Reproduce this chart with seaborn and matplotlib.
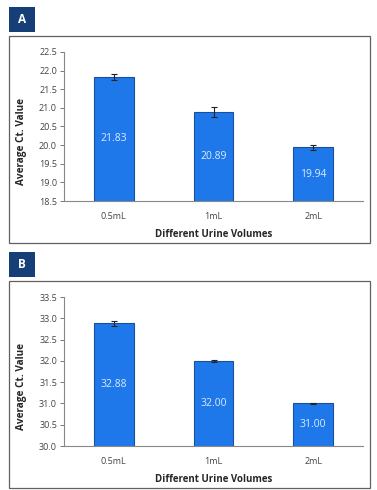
import pandas as pd
import matplotlib.pyplot as plt
import seaborn as sns
from matplotlib.patches import Rectangle

# =========================
# DATA
# =========================

volumes = ["0.5mL", "1mL", "2mL"]

ct_a = [21.83, 20.89, 19.94]
err_a = [0.09, 0.13, 0.07]

ct_b = [32.88, 32.00, 31.00]
err_b = [0.05, 0.02, 0.01]

ylim_a = (18.5, 22.5)
ylim_b = (30.0, 33.5)

panel_labels = ["A", "B"]

bar_color = "#1f78ea"
edge_color = "#1a4f9c"
navy = "#163f77"

sns.set_style("white")
plt.rcParams["font.family"] = ["Open Sans", "DejaVu Sans"]

fig = plt.figure(figsize=(3.77, 4.90), dpi=100)


def px_x(x):
    return x / 377


def px_y(y):
    return 1 - y / 490


def draw_panel(values, errors, ylim, label, box_top, box_bottom, ax_top, ax_bottom):
    # outer frame
    fig.patches.append(Rectangle((px_x(9), px_y(box_bottom)), px_x(361), px_y(box_top) - px_y(box_bottom),
                                 transform=fig.transFigure, fill=False, edgecolor="#606060", linewidth=0.9))
    # label box
    fig.patches.append(Rectangle((px_x(9), px_y(box_top - 4)), px_x(26), px_y(box_top - 29) - px_y(box_top - 4),
                                 transform=fig.transFigure, facecolor=navy, edgecolor="none"))
    fig.text(px_x(22), px_y(box_top - 16.5), label, color="white", fontsize=8.5, fontweight="bold",
             ha="center", va="center")

    ax = fig.add_axes([px_x(64), px_y(ax_bottom), px_x(363 - 64), px_y(ax_top) - px_y(ax_bottom)])
    df = pd.DataFrame({"Volume": volumes, "Ct": values})
    sns.barplot(data=df, x="Volume", y="Ct", color=bar_color, width=0.4,
                edgecolor=edge_color, linewidth=0.8, saturation=1, ax=ax)
    ax.errorbar(range(len(volumes)), values, yerr=errors, fmt="none", ecolor="#222222",
                elinewidth=0.8, capsize=2, capthick=0.8)
    ax.bar_label(ax.containers[0], labels=[f"{v:.2f}" for v in values], label_type="center",
                 color="#dbeaff", fontsize=7.5)

    ax.set_ylim(*ylim)
    ax.set_yticks([ylim[0] + 0.5 * i for i in range(int((ylim[1] - ylim[0]) / 0.5) + 1)])
    ax.set_yticklabels([f"{t:.1f}" for t in ax.get_yticks()], fontsize=6.5, color="#444444")
    ax.set_xlim(-0.5, 2.5)
    ax.set_xticks([0.5, 1.5, 2.5])
    ax.set_xticklabels([])
    ax.set_xticks([0, 1, 2], minor=True)
    ax.set_xticklabels(volumes, minor=True, fontsize=6.5, color="#444444")
    ax.tick_params(axis="x", which="minor", length=0, pad=8)
    ax.tick_params(axis="x", which="major", length=3, width=0.7, color="#777777", direction="out")
    ax.tick_params(axis="y", length=3, width=0.7, color="#777777", direction="out", left=True, pad=2)

    ax.set_xlabel("Different Urine Volumes", fontsize=7, fontweight="bold", labelpad=6)
    ax.set_ylabel("Average Ct. Value", fontsize=7.2, fontweight="bold")
    ax.yaxis.set_label_coords(-0.125, 0.40)

    sns.despine(ax=ax)
    for side in ["left", "bottom"]:
        ax.spines[side].set_color("#888888")
        ax.spines[side].set_linewidth(0.8)
    return ax


draw_panel(ct_a, err_a, ylim_a, panel_labels[0], 36, 243, 52, 201)
draw_panel(ct_b, err_b, ylim_b, panel_labels[1], 281, 488, 297, 446)

plt.savefig("out.png", dpi=100)
